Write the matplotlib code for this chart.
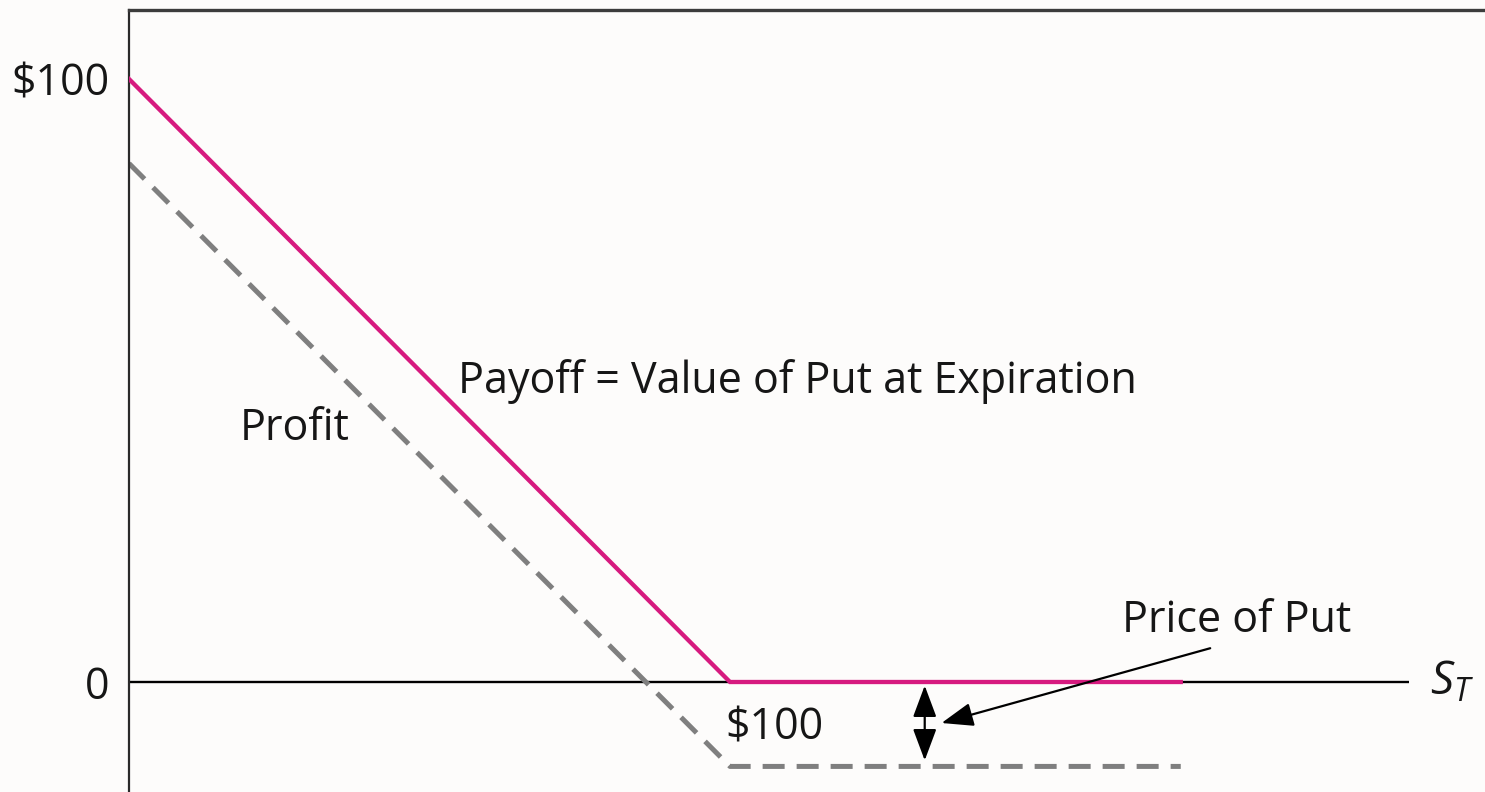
import matplotlib
matplotlib.use("Agg")
import matplotlib.pyplot as plt
from matplotlib.patches import FancyArrowPatch

# ---- data ----
stock_price = [0, 100, 175]          # S_T breakpoints
payoff = [100, 0, 0]                 # value of put at expiration
profit = [86, -14, -14]              # payoff minus price of put (14)
ytick_vals = [0, 100]
ytick_labels = ["0", r"\$100"]
axis_end = 213

plt.rcParams['font.family'] = ['Open Sans', 'DejaVu Sans']
plt.rcParams['mathtext.fontset'] = 'custom'
plt.rcParams['mathtext.it'] = 'Open Sans:italic'
plt.rcParams['mathtext.rm'] = 'Open Sans'

W, H = 1485, 792
fig = plt.figure(figsize=(W / 100, H / 100), dpi=100, facecolor='#fdfcfb')
left = 129 / W
top = 1 - 10 / H
ax = fig.add_axes([left, 0.0, 1.0 - left, top])
ax.set_facecolor('#fdfcfb')

ax.set_xlim(0, (W - 129) / 6.01)
ax.set_ylim((682 - 792) / 6.03, (682 - 10) / 6.03)

# axis line
ax.hlines(0, 0, axis_end, color='black', lw=1.7, zorder=1)

# profit (dashed gray)
ax.plot(stock_price, profit, color='#7f7f7f', lw=3.6,
        linestyle=(0, (4.4, 2.4)), zorder=2)
# payoff (magenta)
ax.plot(stock_price, payoff, color='#d61a7f', lw=3.1, zorder=3,
        solid_joinstyle='miter')

fs = 31
tc = '#161616'
ax.text(54.7, 47.9, "Payoff = Value of Put at Expiration", fontsize=fs,
        va='baseline', ha='left', color=tc)
ax.text(18.5, 40.1, "Profit", fontsize=fs, va='baseline', ha='left', color=tc)
ax.text(165.2, 8.3, "Price of Put", fontsize=fs, va='baseline', ha='left', color=tc)
ax.text(99.2, -9.6, r"\$100", fontsize=fs, va='baseline', ha='left', color=tc)
ax.text(216.5, 0, r"$S_T$", fontsize=fs + 2, va='center', ha='left', color=tc)

# price-of-put double arrow
price = -profit[-1]
dbl = FancyArrowPatch((132.4, -0.6), (132.4, -price + 1.0),
                      arrowstyle='<|-|>,head_length=0.75,head_width=0.28',
                      mutation_scale=26, color='black', lw=1.6, zorder=4,
                      shrinkA=0, shrinkB=0)
ax.add_patch(dbl)
ann = FancyArrowPatch((179.9, 5.6), (135.2, -6.8),
                      arrowstyle='-|>,head_length=0.75,head_width=0.28',
                      mutation_scale=26, color='black', lw=1.6, zorder=4,
                      shrinkA=0, shrinkB=0)
ax.add_patch(ann)

ax.set_yticks(ytick_vals)
ax.set_yticklabels(ytick_labels, fontsize=fs, color=tc)
ax.set_xticks([])
ax.tick_params(axis='y', length=0, pad=14)

for s in ['right', 'bottom']:
    ax.spines[s].set_visible(False)
ax.spines['top'].set_linewidth(2.4)
ax.spines['top'].set_color('#3c3c3c')
ax.spines['left'].set_linewidth(1.6)
ax.spines['left'].set_color('#2a2a2a')

fig.savefig('out.png', dpi=100, facecolor=fig.get_facecolor())
